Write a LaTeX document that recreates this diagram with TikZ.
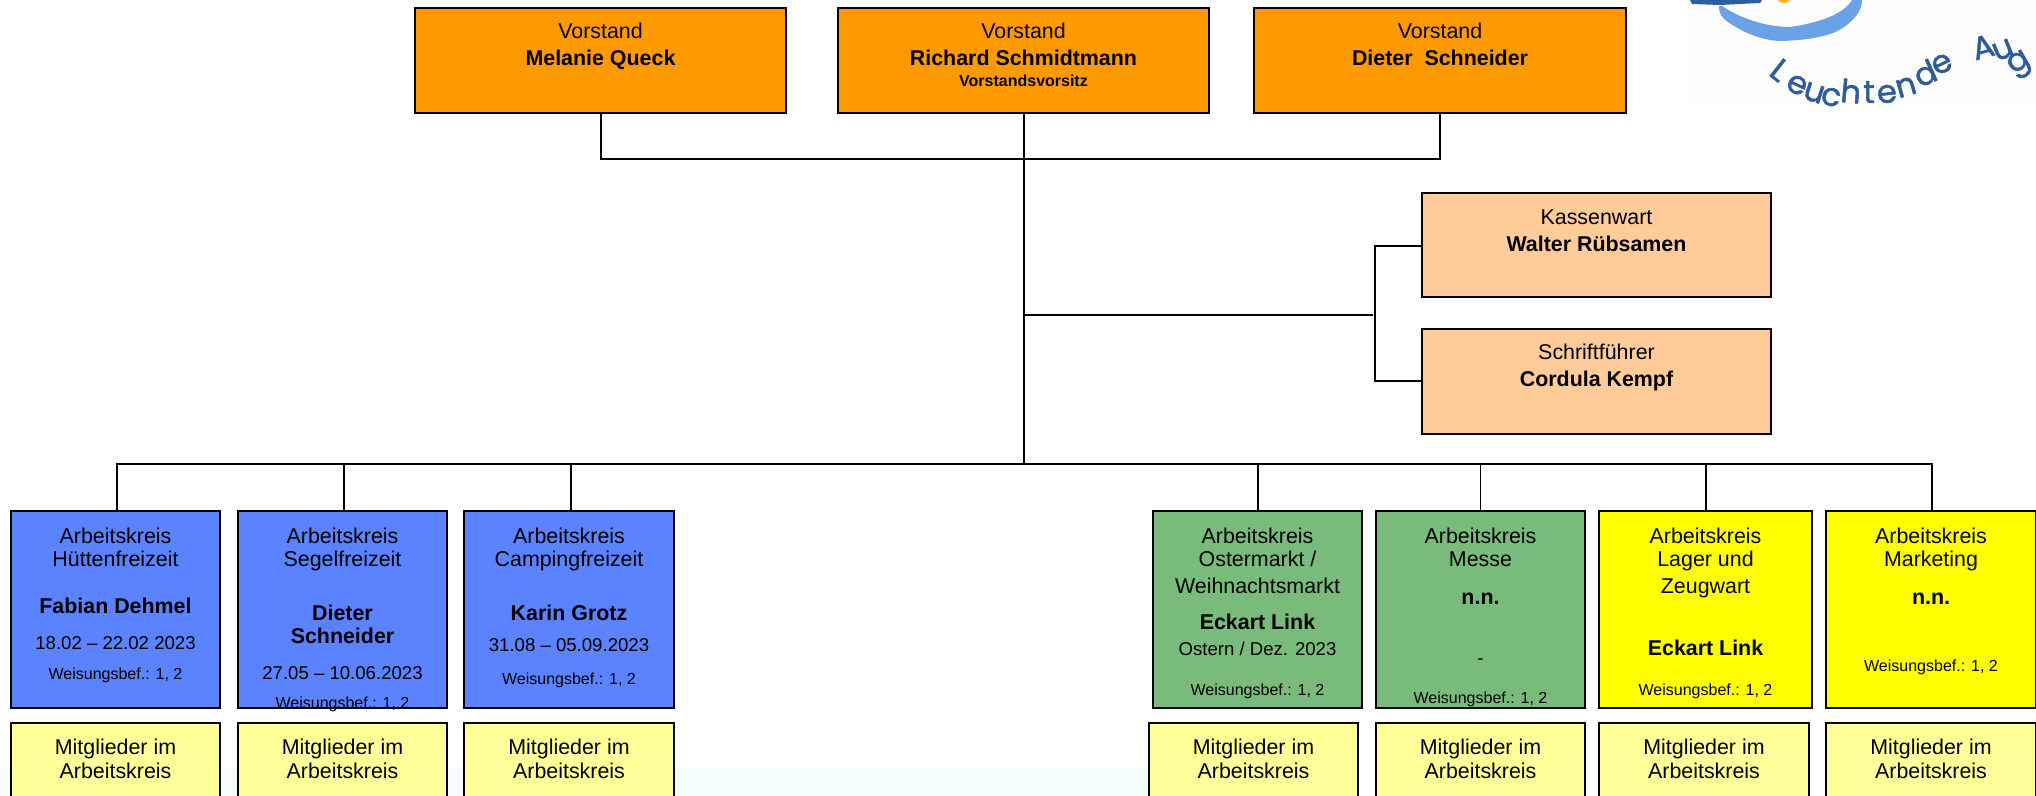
\documentclass[tikz,border=0pt]{standalone}
\usepackage{fontspec}
\setmainfont{Liberation Sans}
\newfontfamily\logofont[FakeBold=1.5]{Poppins}
\definecolor{vorstandcol}{HTML}{FF9900}
\definecolor{peachcol}{HTML}{FFCC99}
\definecolor{bluecol}{HTML}{5B82FF}
\definecolor{greencol}{HTML}{79BB7B}
\definecolor{yellowcol}{HTML}{FFFF00}
\definecolor{palecol}{HTML}{FFFF99}
\definecolor{logodark}{HTML}{2F5C9B}
\definecolor{logolight}{HTML}{6BA1E6}
\definecolor{logosun}{HTML}{F6B024}
\definecolor{tintcol}{HTML}{F5FCFE}
\definecolor{logopaper}{HTML}{FDFDFD}
\newcommand{\cardtext}[4]{\parbox[c][#2pt][t]{#1pt}{\centering\rule{0pt}{#3pt}#4}}
\newcommand{\namefont}{\bfseries}
\newcommand{\datefont}{\fontsize{9.3}{11.5}\selectfont}
\newcommand{\smallfont}{\fontsize{8}{11.5}\selectfont}
\begin{document}
\begin{tikzpicture}[
  x=0.5pt, y=-0.5pt,
  card/.style={draw=black, line width=1pt, inner sep=0pt, text=black,
    font=\fontsize{10.7}{11.5}\selectfont},
  vorstandbox/.style={card, fill=vorstandcol},
  peachbox/.style={card, fill=peachcol},
  bluebox/.style={card, fill=bluecol},
  greenbox/.style={card, fill=greencol},
  yellowbox/.style={card, fill=yellowcol},
  mitbox/.style={card, fill=palecol},
  link/.style={draw=black, line width=1pt},
  linkthin/.style={draw=black, line width=0.9pt}]
\useasboundingbox (0,0) rectangle (2036,796);
% faint tint at the foot of the page
\fill[tintcol] (0,768) rectangle (1300,796);
% logo
\fill[logopaper] (1688,0) rectangle (2036,107);
\fill[logodark] (1690,0) -- (1692,4) -- (1720,5) -- (1760,3) -- (1762,0) -- cycle;
\fill[logosun] (1778,0) .. controls (1780,4) and (1788,4) .. (1790,0) -- cycle;
\fill[logolight] (1719,6) .. controls (1719,14) and (1722,18) .. (1728,22)
  .. controls (1745,34) and (1765,41) .. (1782,41)
  .. controls (1810,40) and (1835,36) .. (1848,24)
  .. controls (1858,16) and (1862,8) .. (1862,0) -- (1852,0)
  .. controls (1845,12) and (1825,22) .. (1790,27)
  .. controls (1765,27) and (1740,18) .. (1722,6) -- cycle;
\foreach \ltr/\lx/\ly/\lrot [count=\i] in {L/1780/70/-38, e/1797/85/-25, u/1814/93/-18,
    c/1831/97/-12, h/1851/91/-5, t/1869/92/0, e/1887/94/6, n/1906/87/16,
    d/1925/73/24, e/1942/64/25, A/1983/47/15, u/2003/50/22, g/2020/65/30}
  \node[text=logodark, inner sep=0pt, rotate=\lrot, font=\logofont\fontsize{16}{16}\selectfont]
    (logo\i) at (\lx,\ly) {\ltr};
% Vorstand
\node[vorstandbox] (vq) at (600.5,60.5) {\cardtext{185.5}{52.5}{15.5}{Vorstand\\[2pt]
  {\namefont Melanie Queck}}};
\node[vorstandbox] (vr) at (1023.5,60.5) {\cardtext{185.5}{52.5}{15.5}{Vorstand\\[2pt]
  {\namefont Richard Schmidtmann}\\[-1.2pt]{\namefont\smallfont Vorstandsvorsitz}}};
\node[vorstandbox] (vd) at (1440,60.5) {\cardtext{186}{52.5}{15.5}{Vorstand\\[2pt]
  {\namefont Dieter~ Schneider}}};
% Kassenwart und Schriftfuehrer
\node[peachbox] (kw) at (1596.5,245) {\cardtext{174.5}{52}{16}{Kassenwart\\[2pt]
  {\namefont Walter Rübsamen}}};
\node[peachbox] (sf) at (1596.5,381.5) {\cardtext{174.5}{52.5}{15.5}{Schriftführer\\[2pt]
  {\namefont Cordula Kempf}}};
% Arbeitskreise
\node[bluebox] (hf) at (115.5,609.5) {\cardtext{104.5}{98.5}{16}{Arbeitskreis\\Hüttenfreizeit\\[12.5pt]
  {\namefont Fabian Dehmel}\\[6pt]{\datefont 18.02 – 22.02 2023}\\[3.5pt]{\smallfont Weisungsbef.: 1, 2}}};
\node[bluebox] (sz) at (342.5,609.5) {\cardtext{104.5}{98.5}{16}{Arbeitskreis\\Segelfreizeit\\[15.5pt]
  {\namefont Dieter}\\[0.5pt]{\namefont Schneider}\\[6pt]{\datefont 27.05 – 10.06.2023}\\[3pt]{\smallfont Weisungsbef.: 1, 2}}};
\node[bluebox] (cf) at (569,609.5) {\cardtext{105}{98.5}{16}{Arbeitskreis\\Campingfreizeit\\[15.5pt]
  {\namefont Karin Grotz}\\[4.5pt]{\datefont 31.08 – 05.09.2023}\\[4.5pt]{\smallfont Weisungsbef.: 1, 2}}};
\node[greenbox] (om) at (1257.5,609.5) {\cardtext{104.5}{98.5}{16}{Arbeitskreis\\Ostermarkt /\\[2pt]Weihnachtsmarkt\\[7pt]
  {\namefont Eckart Link}\\[1pt]{\datefont Ostern / Dez. 2023}\\[8.5pt]{\smallfont Weisungsbef.: 1, 2}}};
\node[greenbox] (me) at (1480.5,609.5) {\cardtext{104.5}{98.5}{16}{Arbeitskreis\\Messe\\[7.5pt]
  {\namefont n.n.}\\[18.5pt]{\datefont -}\\[8pt]{\smallfont Weisungsbef.: 1, 2}}};
\node[yellowbox] (lz) at (1705.5,609.5) {\cardtext{106.5}{98.5}{16}{Arbeitskreis\\Lager und\\[2pt]Zeugwart\\[19.5pt]
  {\namefont Eckart Link}\\[8.5pt]{\smallfont Weisungsbef.: 1, 2}}};
\node[yellowbox] (mk) at (1931,609.5) {\cardtext{105}{98.5}{16}{Arbeitskreis\\Marketing\\[7.5pt]
  {\namefont n.n.}\\[22pt]{\smallfont Weisungsbef.: 1, 2}}};
% Mitglieder
\foreach \nm/\cx/\mw in {mhf/115.5/104.5, msz/342.5/104.5, mcf/569/105, mom/1253.5/104.5,
    mme/1480.5/104.5, mlz/1704/105, mmk/1931/105}
  \node[mitbox] (\nm) at (\cx,763.5) {\cardtext{\mw}{40.5}{15.5}{Mitglieder im\\[0.5pt]Arbeitskreis}};
% connectors
\coordinate (vbus) at (1023.5,159);
\coordinate (hbus) at (1023.5,464);
\coordinate (stub) at (1373,315);
\coordinate (brk) at (1375,315);
\draw[link] (vq.south) |- (vbus) -| (vd.south);
\draw[link] (vr.south) -- (hbus);
\draw[link] (vr.south |- stub) -- (stub);
\draw[link] (kw.west |- 0,246) -| (brk) |- (sf.west |- 0,381);
\draw[link] (hbus) -| ([xshift=0.75pt]hf.north);
\draw[link] (hbus) -| ([xshift=0.75pt]sz.north);
\draw[link] (hbus) -| ([xshift=0.75pt]cf.north);
\draw[link] (hbus) -| (om.north);
\draw[linkthin] (hbus) -| (me.north);
\draw[link] (hbus) -| (lz.north);
\draw[linkthin] (hbus) -| ([xshift=0.5pt]mk.north);
\end{tikzpicture}
\end{document}
